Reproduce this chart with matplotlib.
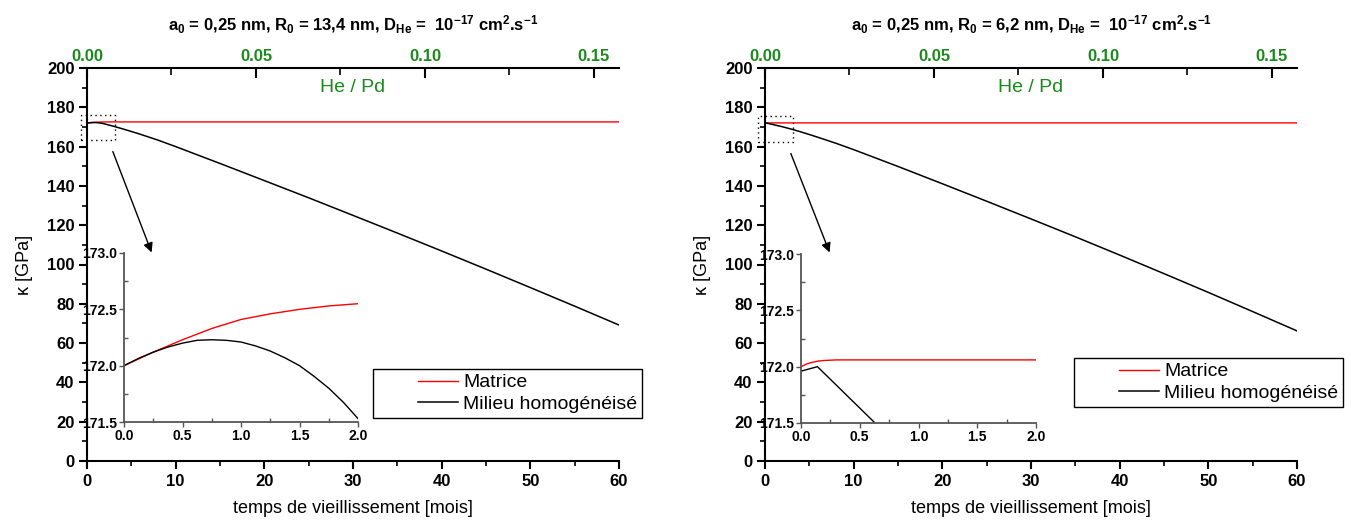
import numpy as np
import matplotlib
matplotlib.use('Agg')
import matplotlib.pyplot as plt
from matplotlib.patches import Rectangle
from matplotlib.ticker import MultipleLocator

plt.rcParams['font.family'] = ['Liberation Sans', 'DejaVu Sans']
plt.rcParams['mathtext.default'] = 'regular'

# ---- donnees ----
# gauche : R0 = 13,4 nm
t_mat_g = [0, 0.125, 0.25, 0.375, 0.5, 0.625, 0.75, 0.875, 1.0, 1.125, 1.25, 1.375, 1.5,
           1.625, 1.75, 1.875, 2.0, 3, 5, 10, 20, 30, 40, 50, 60]
k_mat_g = [172.0, 172.06, 172.12, 172.175, 172.23, 172.28, 172.33, 172.37, 172.41, 172.435,
           172.46, 172.48, 172.50, 172.515, 172.53, 172.54, 172.55,
           172.56, 172.56, 172.56, 172.56, 172.56, 172.56, 172.56, 172.56]
t_hom_g = [0, 0.125, 0.25, 0.375, 0.5, 0.625, 0.75, 0.875, 1.0, 1.125, 1.25, 1.375, 1.5,
           1.625, 1.75, 1.875, 2.0, 3, 4, 5, 6, 8, 10,
           15, 20, 25, 30, 35, 40, 45, 50, 55, 60]
k_hom_g = [172.0, 172.065, 172.12, 172.165, 172.20, 172.225, 172.23, 172.225, 172.21,
           172.175, 172.13, 172.07, 172.0, 171.905, 171.80, 171.675, 171.53,
           170.35, 169.05, 167.70, 166.30, 163.30, 160.0, 151.42, 142.7, 133.95,
           125.0, 116.0, 106.88, 97.63, 88.26, 78.80, 69.2]

# droite : R0 = 6,2 nm
t_mat_d = [0, 0.05, 0.1, 0.15, 0.2, 0.3, 2.0, 10, 30, 60]
k_mat_d = [172.0, 172.025, 172.04, 172.05, 172.055, 172.06, 172.06, 172.06, 172.06, 172.06]
t_hom_d = [0, 0.14, 0.63, 1.0, 2.0, 3, 4, 5, 6, 8, 10, 15, 20, 25,
           30, 35, 40, 45, 50, 55, 60]
k_hom_d = [171.96, 172.0, 171.5, 171.12, 170.05, 168.85, 167.55, 166.15, 164.70,
           161.70, 158.45, 149.9, 141.1, 132.2, 123.2, 114.1, 104.8, 95.35, 85.8,
           76.05, 66.2]

titres = [r'a$_0$ = 0,25 nm, R$_0$ = 13,4 nm, D$_{He}$ =  10$^{-17}$ cm$^2$.s$^{-1}$',
          r'a$_0$ = 0,25 nm, R$_0$ = 6,2 nm, D$_{He}$ =  10$^{-17}$ cm$^2$.s$^{-1}$']

vert = '#1a8a1a'

fig = plt.figure(figsize=(13.51, 5.22), dpi=100)

panneaux = [
    dict(left=87, inset=(124, 253, 358, 422), t_m=t_mat_g, k_m=k_mat_g, t_h=t_hom_g, k_h=k_hom_g,
         rect=(-0.7, 163.4, 3.9, 12.7), fl=((2.8, 158.8), (7.4, 104.8)), leg=(373, 369)),
    dict(left=765, inset=(801, 254, 1036, 423), t_m=t_mat_d, k_m=k_mat_d, t_h=t_hom_d, k_h=k_hom_d,
         rect=(-0.8, 162.3, 3.95, 13.3), fl=((2.8, 157.8), (7.4, 104.8)), leg=(1074, 358)),
]

W, H = 1351, 522
for i, p in enumerate(panneaux):
    ax = fig.add_axes([p['left'] / W, 1 - 461 / H, 532 / W, 393 / H])
    l_mat, = ax.plot(p['t_m'], p['k_m'], color='red', lw=1.0, label='Matrice')
    l_hom, = ax.plot(p['t_h'], p['k_h'], color='black', lw=1.1, label='Milieu homogénéisé')
    ax.set_xlim(0, 60)
    ax.set_ylim(0, 200)
    ax.xaxis.set_major_locator(MultipleLocator(10))
    ax.xaxis.set_minor_locator(MultipleLocator(5))
    ax.yaxis.set_major_locator(MultipleLocator(20))
    ax.yaxis.set_minor_locator(MultipleLocator(10))
    ax.tick_params(which='major', direction='out', length=6, width=1.5, labelsize=12, pad=3)
    ax.tick_params(which='minor', direction='out', length=3.5, width=1.2)
    for lab in ax.get_xticklabels() + ax.get_yticklabels():
        lab.set_fontweight('bold')
    ax.spines['right'].set_visible(False)
    ax.spines['top'].set_visible(False)
    for s in ('left', 'bottom'):
        ax.spines[s].set_linewidth(1.5)
    ax.set_xlabel('temps de vieillissement [mois]', fontsize=13, labelpad=8)
    ax.set_ylabel('κ [GPa]', fontsize=13, labelpad=10)

    # axe du haut He / Pd
    ax2 = ax.twiny()
    ax2.set_xlim(0, 0.1574)
    ax2.set_xticks([0, 0.05, 0.10, 0.15], ['0.00', '0.05', '0.10', '0.15'],
                   color=vert, fontweight='bold', fontsize=12)
    ax2.xaxis.set_minor_locator(MultipleLocator(0.025))
    ax2.tick_params(which='major', direction='in', length=7, width=1.5, pad=3)
    ax2.tick_params(which='minor', direction='in', length=5, width=1.2)
    for s in ('left', 'right', 'bottom'):
        ax2.spines[s].set_visible(False)
    ax2.spines['top'].set_linewidth(1.5)
    ax.text(0.5, 0.95, 'He / Pd', transform=ax.transAxes, ha='center', va='center',
            color=vert, fontsize=14)

    fig.text((p['left'] + 266) / W, 1 - 25 / H, titres[i], ha='center', va='center',
             fontsize=12, fontweight='bold')

    # zone agrandie + fleche
    x0, y0, w, h = p['rect']
    ax.add_patch(Rectangle((x0, y0), w, h, fill=False, ls=(0, (1, 2.5)), lw=1.0,
                           ec='black', clip_on=False))
    ax.annotate('', xy=p['fl'][1], xytext=p['fl'][0],
                arrowprops=dict(arrowstyle='-|>', lw=1.0, color='black', mutation_scale=14))

    # encart
    xa, ya, xb, yb = p['inset']
    axi = fig.add_axes([xa / W, 1 - yb / H, (xb - xa) / W, (yb - ya) / H])
    axi.plot(p['t_m'], p['k_m'], color='red', lw=1.0)
    axi.plot(p['t_h'], p['k_h'], color='black', lw=1.0)
    axi.set_xlim(0, 2.0)
    axi.set_ylim(171.5, 173.0)
    xt = [0, 0.5, 1.0, 1.5, 2.0]
    yt = [171.5, 172.0, 172.5, 173.0]
    axi.set_xticks(xt, [f'{v:.1f}' for v in xt])
    axi.set_yticks(yt, [f'{v:.1f}' for v in yt])
    axi.xaxis.set_minor_locator(MultipleLocator(0.25))
    axi.yaxis.set_minor_locator(MultipleLocator(0.25))
    axi.tick_params(which='major', direction='out', length=3.5, width=1.0, labelsize=10, pad=1.5,
                    color='#555555')
    axi.tick_params(which='minor', direction='in', length=3, width=1.0, color='#555555')
    for lab in axi.get_xticklabels() + axi.get_yticklabels():
        lab.set_fontweight('bold')
    axi.spines['right'].set_visible(False)
    axi.spines['top'].set_visible(False)
    for s in ('left', 'bottom'):
        axi.spines[s].set_color('#555555')
        axi.spines[s].set_linewidth(1.3)
    axi.patch.set_alpha(0)

    lx, ly = p['leg']
    leg = fig.legend([l_mat, l_hom], ['Matrice', 'Milieu homogénéisé'], loc='upper left',
                     bbox_to_anchor=(lx / W, 1 - ly / H), fancybox=False, framealpha=1,
                     edgecolor='black', borderpad=0.25, labelspacing=0.2, handlelength=4.1,
                     handletextpad=0.3, borderaxespad=0, prop={'size': 14})
    leg.get_frame().set_linewidth(1.0)
    leg.set_zorder(5)
    # trait de legende decale vers la droite (style Origin)
    for hdl in leg.legend_handles:
        xd = np.asarray(hdl.get_xdata(), dtype=float)
        hdl.set_xdata(np.linspace(xd[0] + 0.5 * (xd[-1] - xd[0]), xd[-1], len(xd)))

fig.savefig('out.png', dpi=100)
